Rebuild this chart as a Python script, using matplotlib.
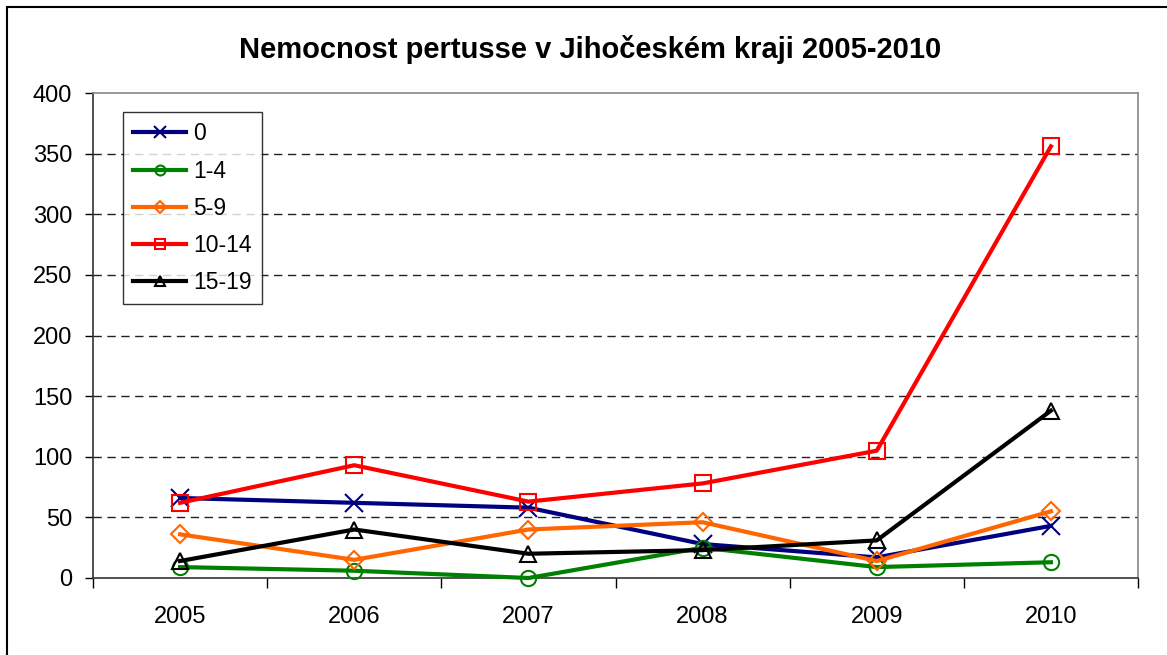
import matplotlib.pyplot as plt
from matplotlib.patches import Rectangle

years = ['2005', '2006', '2007', '2008', '2009', '2010']
age_0 = [66, 62, 58, 28, 17, 43]
age_1_4 = [9, 6, 0, 25, 9, 13]
age_5_9 = [36, 15, 40, 46, 14, 55]
age_10_14 = [62, 93, 63, 78, 105, 356]
age_15_19 = [14, 40, 20, 23, 31, 138]

series = [
    ('0', age_0, '#000080', 'x'),
    ('1-4', age_1_4, '#008000', 'o'),
    ('5-9', age_5_9, '#FF6600', 'D'),
    ('10-14', age_10_14, '#FF0000', 's'),
    ('15-19', age_15_19, '#000000', '^'),
]
sizes = {'x': 13, 'o': 11, 'D': 9, 's': 11, '^': 12}

plt.rcParams['font.family'] = ['Liberation Sans', 'DejaVu Sans']

fig = plt.figure(figsize=(11.67, 6.55), dpi=100)
ax = fig.add_axes([93 / 1167, 1 - 578 / 655, (1138 - 93) / 1167, (578 - 93) / 655])

x = list(range(len(years)))
for name, vals, col, mk in series:
    ax.plot(x, vals, color=col, lw=3, marker=mk, ms=sizes[mk], mfc='none',
            mec=col, mew=1.5, label=name, clip_on=False, zorder=3)

ax.set_xlim(-0.5, 5.5)
ax.set_ylim(0, 400)
ax.set_yticks(range(0, 401, 50))
ax.set_xticks(x)
ax.set_xticklabels(years)
ax.set_xticks([i - 0.5 for i in range(7)], minor=True)
ax.tick_params(axis='x', which='major', length=0, pad=20, labelsize=17)
ax.tick_params(axis='x', which='minor', length=7, width=1, direction='out')
ax.tick_params(axis='y', length=6, width=1, direction='out', pad=9, labelsize=17)

for v in range(50, 400, 50):
    ax.axhline(v, color='#222222', lw=1, ls=(0, (6, 4)), zorder=1)

ax.spines['left'].set_color('#333333')
ax.spines['bottom'].set_color('#333333')
ax.spines['top'].set_color('#888888')
ax.spines['right'].set_color('#888888')
for s in ax.spines.values():
    s.set_linewidth(1.2)

fig.text(590 / 1167, 1 - 49 / 655, 'Nemocnost pertusse v Jihočeském kraji 2005-2010',
         ha='center', va='center', fontsize=21, fontweight='bold')

leg = ax.legend(loc='upper left', bbox_to_anchor=((123 - 93) / 1045, 1 - (112 - 93) / 485),
                fontsize=16.5, frameon=True, fancybox=False, edgecolor='black',
                handlelength=2.3, handletextpad=0.3, labelspacing=0.62,
                borderpad=0.45, markerscale=0.65, borderaxespad=0)
leg.get_frame().set_linewidth(1)

fig.patches.append(Rectangle((7 / 1167, -0.1), 1.2, 1 - 7 / 655 + 0.1,
                             transform=fig.transFigure, fill=False,
                             edgecolor='black', lw=1.5))

fig.savefig('out.png', dpi=100)
